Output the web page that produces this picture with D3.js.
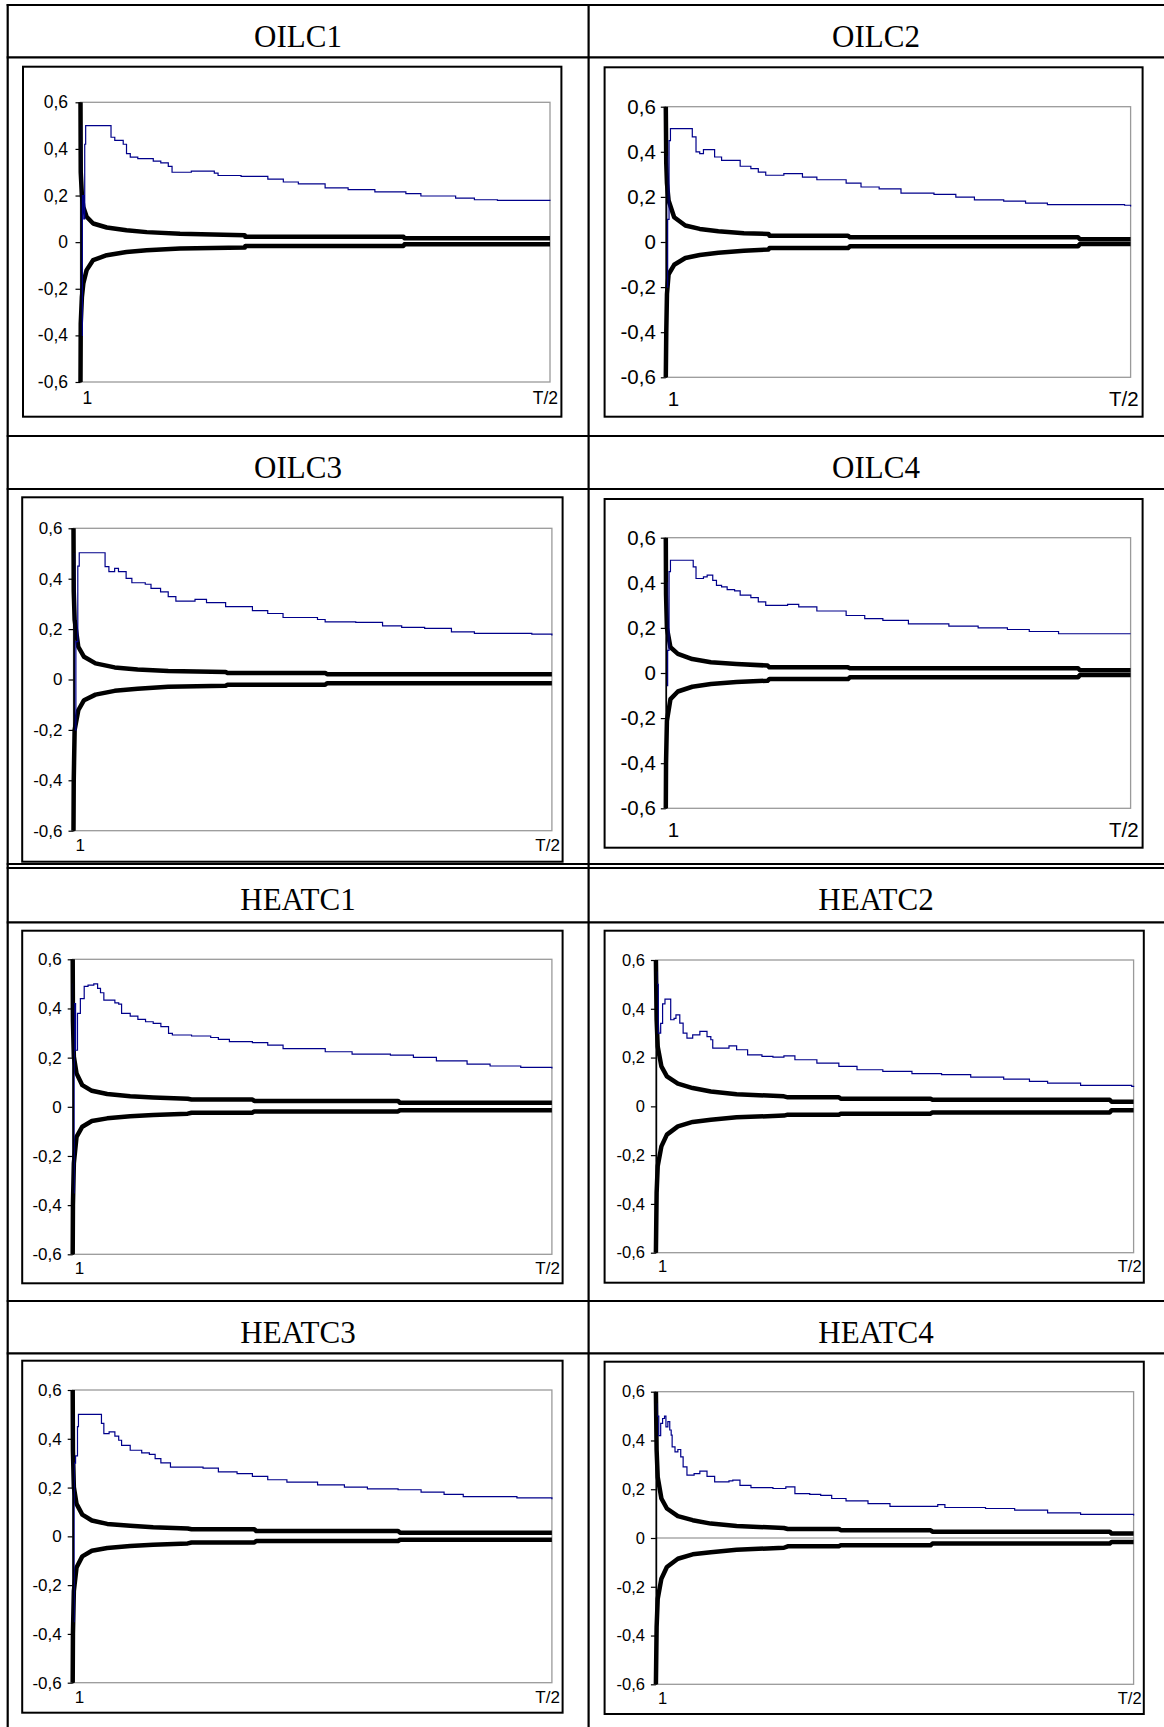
<!DOCTYPE html>
<html>
<head>
<meta charset="utf-8">
<script src="https://cdn.jsdelivr.net/npm/d3@7"></script>
<style>
  body { margin: 0; background: #fff; }
  svg { display: block; }
</style>
</head>
<body>
<svg id="chart"></svg>
<script>
// tick values and labels shared by all panels
const yTicks = [-0.6, -0.4, -0.2, 0, 0.2, 0.4, 0.6];
const yTickLabels = ["-0,6", "-0,4", "-0,2", "0", "0,2", "0,4", "0,6"];
const xTicks = [0, 100];
const xTickLabels = ["1", "T/2"];

// x is the position in the sample, in % of T/2
const oilc1BlueX = [0, 0.15, 0.4, 0.7, 0.9, 1.1, 5.9, 6.5, 7.3, 8.8, 9.1, 9.8, 10.6, 12.2, 15.5, 17.1, 18.7, 19.5, 23.6, 28.5, 29.3, 34.2, 39.9, 43.2, 46.4, 52.1, 57.0, 62.7, 69.3, 72.5, 79.9, 83.9, 88.8, 100];
const oilc1BlueY = [0.5, -0.4, 0.2, 0.1, 0.42, 0.5, 0.5, 0.45, 0.437, 0.437, 0.42, 0.38, 0.365, 0.358, 0.348, 0.34, 0.325, 0.30, 0.305, 0.296, 0.286, 0.282, 0.27, 0.258, 0.25, 0.233, 0.225, 0.216, 0.208, 0.198, 0.189, 0.182, 0.179, 0.178];
const oilc1BandX = [0, 0.05, 0.3, 0.6, 1.3, 2.7, 5.6, 9.8, 14.1, 21.2, 35.0, 35.1, 68.8, 69.0, 100];
const oilc1BandUp = [0.6, 0.3, 0.2, 0.151, 0.109, 0.08, 0.063, 0.051, 0.043, 0.036, 0.030, 0.023, 0.023, 0.017, 0.017];
const oilc1BandLo = [-0.6, -0.35, -0.235, -0.177, -0.12, -0.077, -0.056, -0.042, -0.035, -0.027, -0.023, -0.016, -0.016, -0.009, -0.009];

const oilc2BlueX = [0, 0.2, 0.4, 0.7, 1.0, 5.4, 5.7, 6.5, 7.3, 8.1, 9.3, 10.5, 11.7, 12.0, 15.6, 16.0, 18.3, 19.9, 21.5, 25.4, 29.4, 32.5, 38.8, 42.0, 45.9, 50.6, 57.7, 62.4, 66.4, 72.7, 77.4, 82.1, 98.7, 100];
const oilc2BlueY = [0.38, -0.2, 0.1, 0.45, 0.503, 0.503, 0.466, 0.40, 0.392, 0.41, 0.41, 0.377, 0.377, 0.362, 0.362, 0.336, 0.325, 0.31, 0.296, 0.303, 0.288, 0.276, 0.261, 0.244, 0.236, 0.217, 0.211, 0.199, 0.187, 0.181, 0.172, 0.166, 0.163, 0.157];
const oilc2BandX = [0, 0.1, 0.25, 0.6, 1.8, 4.2, 7.3, 11.3, 16.8, 22.1, 22.3, 39.2, 39.6, 88.7, 89.1, 100];
const oilc2BandUp = [0.6, 0.35, 0.26, 0.184, 0.11, 0.073, 0.058, 0.048, 0.039, 0.036, 0.028, 0.028, 0.021, 0.021, 0.012, 0.012];
const oilc2BandLo = [-0.6, -0.4, -0.23, -0.143, -0.101, -0.071, -0.058, -0.048, -0.039, -0.033, -0.027, -0.027, -0.019, -0.019, -0.009, -0.009];

const oilc3BlueX = [0, 0.2, 0.5, 0.9, 1.2, 5.8, 6.6, 7.4, 8.6, 9.4, 11.0, 12.2, 15.0, 16.2, 18.2, 19.8, 21.4, 25.4, 27.8, 31.8, 37.4, 40.6, 43.8, 51.0, 52.6, 59.0, 64.6, 68.6, 73.4, 79.0, 83.8, 95.8, 100];
const oilc3BlueY = [0.5, -0.2, 0.15, 0.45, 0.503, 0.503, 0.448, 0.428, 0.441, 0.428, 0.401, 0.384, 0.378, 0.362, 0.348, 0.329, 0.311, 0.318, 0.305, 0.289, 0.273, 0.262, 0.246, 0.238, 0.229, 0.227, 0.213, 0.207, 0.203, 0.189, 0.183, 0.18, 0.175];
const oilc3BandX = [0, 0.05, 0.24, 1.0, 2.2, 4.6, 8.6, 13.4, 19.8, 31.8, 32.2, 52.6, 53.0, 100];
const oilc3BandUp = [0.6, 0.35, 0.236, 0.13, 0.09, 0.064, 0.048, 0.04, 0.034, 0.03, 0.026, 0.026, 0.021, 0.021];
const oilc3BandLo = [-0.6, -0.4, -0.2, -0.122, -0.082, -0.06, -0.045, -0.037, -0.029, -0.025, -0.021, -0.021, -0.015, -0.015];

const oilc4BlueX = [0, 0.2, 0.4, 0.7, 1.0, 5.4, 5.9, 6.5, 8.1, 8.9, 10.1, 10.9, 12.0, 13.2, 14.8, 16.0, 18.3, 19.9, 21.5, 26.2, 28.6, 32.5, 38.8, 42.8, 46.7, 52.2, 60.9, 67.2, 73.5, 78.2, 84.5, 100];
const oilc4BlueY = [0.4, -0.056, 0.1, 0.45, 0.50, 0.50, 0.471, 0.419, 0.426, 0.434, 0.411, 0.389, 0.382, 0.37, 0.364, 0.345, 0.334, 0.315, 0.30, 0.304, 0.293, 0.275, 0.255, 0.241, 0.233, 0.218, 0.208, 0.20, 0.193, 0.184, 0.174, 0.174];
const oilc4BandX = [0, 0.05, 0.24, 1.0, 2.6, 5.7, 9.7, 15.2, 21.9, 22.3, 39.2, 39.6, 88.7, 89.1, 100];
const oilc4BandUp = [0.6, 0.35, 0.2, 0.114, 0.085, 0.062, 0.048, 0.04, 0.033, 0.025, 0.025, 0.021, 0.021, 0.012, 0.012];
const oilc4BandLo = [-0.6, -0.4, -0.212, -0.116, -0.082, -0.061, -0.049, -0.04, -0.034, -0.027, -0.027, -0.019, -0.019, -0.009, -0.009];

const heatc1BlueX = [0, 0.1, 0.3, 0.6, 1.0, 1.6, 2.4, 3.2, 4.4, 5.2, 5.8, 6.5, 8.8, 9.6, 10.2, 12.0, 13.6, 15.2, 16.8, 18.4, 20.0, 20.8, 24.8, 28.8, 30.4, 32.7, 37.5, 40.7, 43.9, 50.3, 52.7, 58.3, 66.3, 71.1, 75.9, 82.3, 87.1, 93.5, 100];
const heatc1BlueY = [0.5, -0.35, 0.42, 0.23, 0.38, 0.44, 0.49, 0.495, 0.5, 0.482, 0.464, 0.434, 0.423, 0.418, 0.38, 0.369, 0.356, 0.346, 0.339, 0.326, 0.299, 0.292, 0.288, 0.282, 0.274, 0.265, 0.261, 0.251, 0.237, 0.237, 0.224, 0.214, 0.21, 0.201, 0.187, 0.174, 0.166, 0.16, 0.156];
const heatc1BandX = [0, 0.05, 0.24, 0.8, 2.0, 4.0, 7.2, 12.0, 16.8, 24.0, 24.8, 37.5, 37.9, 67.9, 68.3, 100];
const heatc1BandUp = [0.6, 0.35, 0.204, 0.136, 0.088, 0.065, 0.052, 0.043, 0.038, 0.033, 0.03, 0.03, 0.024, 0.024, 0.016, 0.016];
const heatc1BandLo = [-0.6, -0.4, -0.23, -0.122, -0.081, -0.058, -0.047, -0.038, -0.033, -0.028, -0.024, -0.024, -0.019, -0.019, -0.014, -0.014];

const heatc2BlueX = [0, 0.2, 0.5, 1.0, 1.4, 1.9, 3.1, 3.8, 4.2, 5.0, 5.7, 6.5, 7.7, 9.2, 10.7, 11.5, 11.9, 13.8, 15.3, 16.9, 19.2, 22.2, 24.5, 26.8, 29.1, 33.7, 38.3, 42.1, 47.5, 53.6, 59.8, 65.9, 72.8, 78.2, 82.0, 88.9, 99.6, 100];
const heatc2BlueY = [0.55, 0.5, 0.3, 0.34, 0.42, 0.44, 0.355, 0.361, 0.375, 0.341, 0.30, 0.28, 0.293, 0.307, 0.286, 0.273, 0.239, 0.239, 0.248, 0.232, 0.211, 0.205, 0.202, 0.207, 0.191, 0.177, 0.164, 0.15, 0.143, 0.134, 0.13, 0.12, 0.112, 0.102, 0.095, 0.086, 0.082, 0.079];
const heatc2BandX = [0, 0.15, 0.38, 1.15, 2.3, 4.6, 7.7, 11.5, 16.9, 26.8, 27.6, 38.3, 38.7, 57.5, 57.9, 95.0, 95.4, 100];
const heatc2BandUp = [0.6, 0.355, 0.245, 0.164, 0.123, 0.093, 0.075, 0.061, 0.05, 0.041, 0.037, 0.037, 0.031, 0.031, 0.027, 0.027, 0.019, 0.019];
const heatc2BandLo = [-0.6, -0.355, -0.245, -0.164, -0.116, -0.082, -0.064, -0.055, -0.045, -0.038, -0.034, -0.034, -0.03, -0.03, -0.025, -0.025, -0.016, -0.016];

const heatc3BlueX = [0, 0.1, 0.3, 0.6, 1.0, 1.2, 5.4, 6.0, 6.5, 7.6, 8.8, 9.6, 10.2, 12.0, 14.4, 16.0, 17.2, 18.4, 20.4, 27.2, 30.4, 34.3, 37.5, 40.7, 44.7, 51.1, 56.7, 61.5, 67.9, 72.7, 77.5, 81.5, 92.7, 100];
const heatc3BlueY = [0.5, -0.35, 0.3, 0.33, 0.45, 0.5, 0.5, 0.463, 0.421, 0.428, 0.411, 0.394, 0.373, 0.353, 0.342, 0.336, 0.319, 0.301, 0.284, 0.28, 0.264, 0.257, 0.246, 0.232, 0.222, 0.211, 0.202, 0.195, 0.191, 0.181, 0.172, 0.163, 0.158, 0.152];
const heatc3BandX = [0, 0.05, 0.24, 0.8, 2.0, 4.0, 7.2, 12.0, 16.8, 24.0, 24.8, 37.9, 38.3, 67.9, 68.3, 100];
const heatc3BandUp = [0.6, 0.35, 0.202, 0.133, 0.089, 0.065, 0.051, 0.043, 0.037, 0.032, 0.029, 0.029, 0.022, 0.022, 0.015, 0.015];
const heatc3BandLo = [-0.6, -0.4, -0.224, -0.128, -0.082, -0.059, -0.048, -0.04, -0.034, -0.029, -0.025, -0.025, -0.019, -0.019, -0.014, -0.014];

const heatc4BlueX = [0, 0.2, 0.6, 1.0, 1.4, 1.8, 2.1, 2.5, 2.9, 3.2, 3.4, 4.0, 4.6, 5.2, 5.7, 6.5, 8.0, 9.2, 10.7, 12.3, 15.3, 16.1, 17.6, 19.9, 24.5, 27.2, 29.1, 32.2, 34.5, 36.8, 39.8, 44.4, 49.0, 57.5, 59.0, 60.5, 69.0, 75.1, 82.0, 88.9, 100];
const heatc4BlueY = [0.55, 0.5, 0.42, 0.47, 0.49, 0.5, 0.456, 0.477, 0.443, 0.422, 0.374, 0.353, 0.363, 0.333, 0.292, 0.258, 0.264, 0.274, 0.253, 0.23, 0.234, 0.237, 0.216, 0.207, 0.203, 0.21, 0.182, 0.179, 0.175, 0.162, 0.152, 0.141, 0.13, 0.13, 0.137, 0.125, 0.121, 0.114, 0.103, 0.097, 0.092];
const heatc4BandX = [0, 0.15, 0.38, 1.15, 2.3, 4.6, 7.7, 11.5, 16.9, 26.8, 27.6, 38.3, 38.7, 57.5, 57.9, 95.0, 95.4, 100];
const heatc4BandUp = [0.6, 0.36, 0.25, 0.162, 0.121, 0.09, 0.073, 0.059, 0.049, 0.041, 0.037, 0.037, 0.032, 0.032, 0.026, 0.026, 0.018, 0.018];
const heatc4BandLo = [-0.6, -0.366, -0.25, -0.167, -0.119, -0.085, -0.067, -0.058, -0.048, -0.04, -0.034, -0.034, -0.03, -0.03, -0.023, -0.023, -0.016, -0.016];

const width = 1164, height = 1727;
const svg = d3.select("#chart").attr("width", width).attr("height", height);

// table grid
let colX = [7.7, 588.6];
let colCenter = [298, 876];
let hLines = [5, 57.3, 436, 489, 864, 868, 922.3, 1301, 1353.3];
let headerTop = [5, 436, 868, 1301];

hLines.forEach(function(yy) {
    svg.append("line").attr("x1", colX[0] - 1).attr("x2", width).attr("y1", yy).attr("y2", yy)
        .attr("stroke", "#000").attr("stroke-width", 2.2);
});
colX.forEach(function(xx) {
    svg.append("line").attr("x1", xx).attr("x2", xx).attr("y1", 4).attr("y2", height)
        .attr("stroke", "#000").attr("stroke-width", 2.2);
});

let sans = "'Liberation Sans', Arial, sans-serif";
let narrow = "'Liberation Sans Narrow', 'Liberation Sans', Arial, sans-serif";

let panels = [
    {name: "OILC1", col: 0, row: 0, bx: oilc1BlueX, by: oilc1BlueY, kx: oilc1BandX, ku: oilc1BandUp, kl: oilc1BandLo,
        frame: [23, 66.7, 538.4, 350], plot: [80.5, 102.3, 469.5, 279.7], family: sans, font: 17.5, yPad: 7.5, xPad: 10},
    {name: "OILC2", col: 1, row: 0, bx: oilc2BlueX, by: oilc2BlueY, kx: oilc2BandX, ku: oilc2BandUp, kl: oilc2BandLo,
        frame: [604.6, 67.3, 538, 349.4], plot: [665.8, 106.7, 464.8, 270.6], family: narrow, font: 20.5, yPad: 5, xPad: 14},
    {name: "OILC3", col: 0, row: 1, bx: oilc3BlueX, by: oilc3BlueY, kx: oilc3BandX, ku: oilc3BandUp, kl: oilc3BandLo,
        frame: [22.2, 497.3, 540.4, 364.4], plot: [73.5, 528.3, 478.4, 302.4], family: sans, font: 17, yPad: 6, xPad: 8},
    {name: "OILC4", col: 1, row: 1, bx: oilc4BlueX, by: oilc4BlueY, kx: oilc4BandX, ku: oilc4BandUp, kl: oilc4BandLo,
        frame: [604.6, 499, 538, 348.7], plot: [665.8, 537.7, 464.8, 270.6], family: narrow, font: 20.5, yPad: 5, xPad: 14},
    {name: "HEATC1", col: 0, row: 2, bx: heatc1BlueX, by: heatc1BlueY, kx: heatc1BandX, ku: heatc1BandUp, kl: heatc1BandLo,
        frame: [22.2, 930.7, 540.4, 352.6], plot: [72.7, 959.3, 479.2, 295], family: sans, font: 17, yPad: 6, xPad: 8},
    {name: "HEATC2", col: 1, row: 2, bx: heatc2BlueX, by: heatc2BlueY, kx: heatc2BandX, ku: heatc2BandUp, kl: heatc2BandLo,
        frame: [604.6, 930.7, 539.2, 352], plot: [655.9, 960, 477.7, 292.7], family: sans, font: 16.5, yPad: 6, xPad: 8},
    {name: "HEATC3", col: 0, row: 3, bx: heatc3BlueX, by: heatc3BlueY, kx: heatc3BandX, ku: heatc3BandUp, kl: heatc3BandLo,
        frame: [22.2, 1360.7, 540.4, 352], plot: [72.7, 1390, 479.2, 292.7], family: sans, font: 17, yPad: 6, xPad: 8},
    {name: "HEATC4", col: 1, row: 3, bx: heatc4BlueX, by: heatc4BlueY, kx: heatc4BandX, ku: heatc4BandUp, kl: heatc4BandLo,
        frame: [604.6, 1361.7, 539.2, 352.3], plot: [655.9, 1391.7, 477.7, 292.6], family: sans, font: 16.5, yPad: 6, xPad: 8, zeroLine: true}
];

panels.forEach(function(p) {
    // header cell title
    svg.append("text")
        .attr("x", colCenter[p.col])
        .attr("y", headerTop[p.row] + 41.5)
        .attr("text-anchor", "middle")
        .attr("font-family", "'Liberation Serif', 'Times New Roman', serif")
        .attr("font-size", 31)
        .text(p.name);

    let g = svg.append("g");
    g.append("rect")
        .attr("x", p.frame[0]).attr("y", p.frame[1])
        .attr("width", p.frame[2]).attr("height", p.frame[3])
        .attr("fill", "#fff").attr("stroke", "#000").attr("stroke-width", 2);

    let x = d3.scaleLinear().domain([0, 100]).range([p.plot[0], p.plot[0] + p.plot[2]]);
    let y = d3.scaleLinear().domain([-0.6, 0.6]).range([p.plot[1] + p.plot[3], p.plot[1]]);

    g.append("rect")
        .attr("x", x(0)).attr("y", y(0.6))
        .attr("width", x(100) - x(0)).attr("height", y(-0.6) - y(0.6))
        .attr("fill", "none").attr("stroke", "#9a9a9a").attr("stroke-width", 1.3);

    if (p.zeroLine) {
        g.append("line")
            .attr("x1", x(0)).attr("x2", x(100)).attr("y1", y(0)).attr("y2", y(0))
            .attr("stroke", "#808080").attr("stroke-width", 1.2);
    }

    let band = d3.line()
        .x(function(d, i) { return x(p.kx[i]); })
        .y(function(d) { return y(d); });
    [p.ku, p.kl].forEach(function(vals) {
        g.append("path")
            .attr("d", band(vals))
            .attr("fill", "none").attr("stroke", "#000")
            .attr("stroke-width", 4.5).attr("stroke-linejoin", "round");
    });

    let blue = d3.line()
        .curve(d3.curveStepAfter)
        .x(function(d, i) { return x(p.bx[i]); })
        .y(function(d) { return y(d); });
    g.append("path")
        .attr("d", blue(p.by))
        .attr("fill", "none").attr("stroke", "#00008b").attr("stroke-width", 1.2);

    let yAxis = g.append("g")
        .attr("transform", "translate(" + x(0) + ",0)")
        .call(d3.axisLeft(y)
            .tickValues(yTicks)
            .tickFormat(function(d) { return yTickLabels[yTicks.indexOf(d)]; })
            .tickSize(5).tickSizeOuter(0).tickPadding(p.yPad));
    yAxis.attr("font-family", p.family).attr("font-size", p.font);
    yAxis.select(".domain").attr("stroke", "#000").attr("stroke-width", 1.6);
    yAxis.selectAll(".tick line").attr("stroke", "#000").attr("stroke-width", 1.2);
    yAxis.selectAll(".tick text").attr("fill", "#000");

    let xAxis = g.append("g")
        .attr("transform", "translate(0," + y(-0.6) + ")")
        .call(d3.axisBottom(x)
            .tickValues(xTicks)
            .tickFormat(function(d) { return xTickLabels[xTicks.indexOf(d)]; })
            .tickSize(0).tickPadding(p.xPad));
    xAxis.attr("font-family", p.family).attr("font-size", p.font);
    xAxis.select(".domain").remove();
    xAxis.selectAll(".tick text")
        .attr("fill", "#000")
        .attr("text-anchor", function(d) { return d === 0 ? "start" : "end"; })
        .attr("dx", function(d) { return d === 0 ? 1.5 : 7.5; });
});
</script>
</body>
</html>
